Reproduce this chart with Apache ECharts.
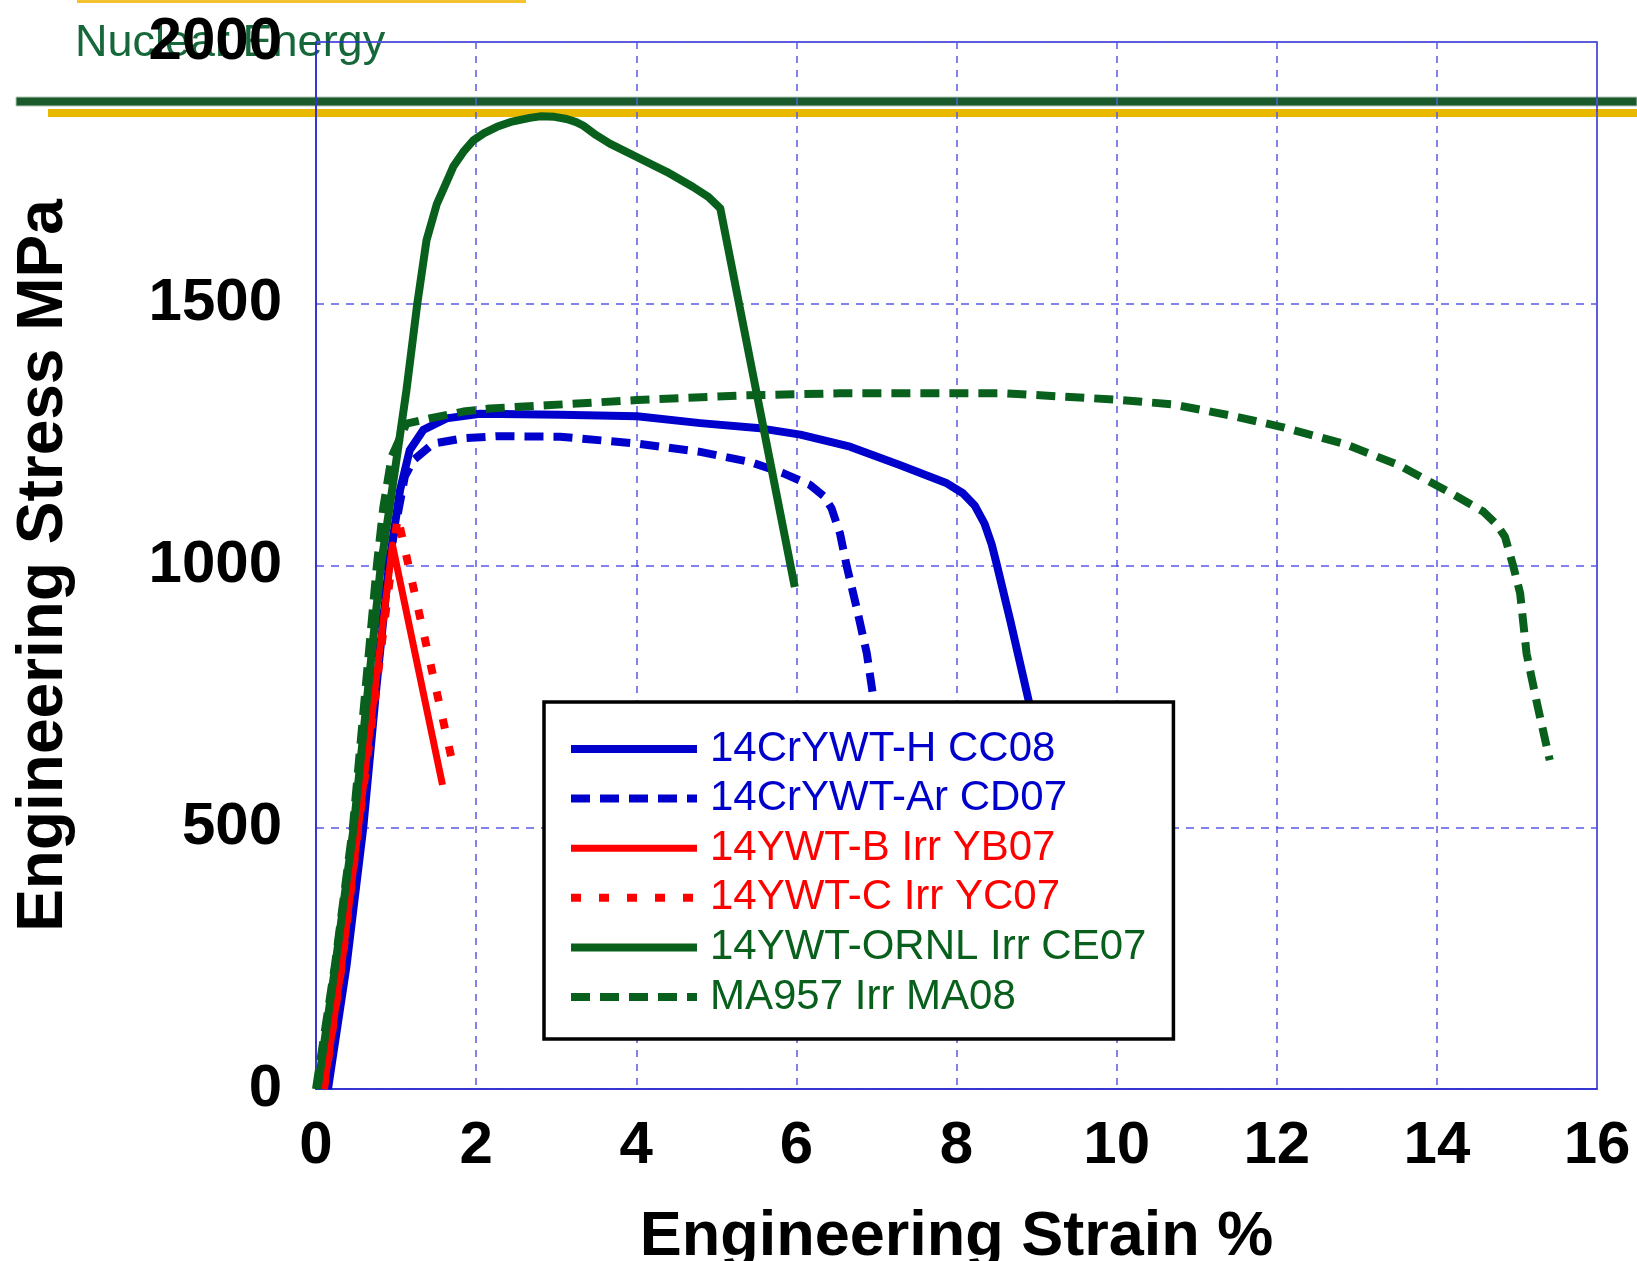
<!DOCTYPE html>
<html>
<head>
<meta charset="utf-8">
<script src="https://cdn.jsdelivr.net/npm/echarts@6/dist/echarts.min.js"></script>
<style>
  html, body { margin: 0; padding: 0; background: #ffffff; }
  #chart { width: 1637px; height: 1261px; }
</style>
</head>
<body>
<div id="chart"></div>
<script>
// Tensile curves: [engineering strain %, engineering stress MPa]
const cc08_14CrYWT_H = [
  [0.15, 0], [0.38, 234], [0.59, 499], [0.75, 760], [0.91, 1000], [1.05, 1144],
  [1.17, 1220], [1.34, 1259], [1.63, 1281], [2.05, 1290], [3.05, 1288], [4.01, 1285],
  [4.8, 1272], [5.55, 1262], [6.05, 1250], [6.67, 1227], [7.29, 1192], [7.88, 1157],
  [8.08, 1138], [8.23, 1114], [8.35, 1080], [8.44, 1040], [8.5, 1004], [8.67, 896],
  [8.9, 743], [9.05, 640]
];
const cd07_14CrYWT_Ar = [
  [0.12, 0], [0.36, 234], [0.57, 499], [0.74, 760], [0.9, 1000], [1.11, 1170],
  [1.215, 1201], [1.465, 1233], [1.84, 1243], [2.26, 1247], [3.05, 1246], [4.01, 1233],
  [4.8, 1217], [5.42, 1198], [5.84, 1176], [6.17, 1154], [6.34, 1133], [6.44, 1109],
  [6.545, 1061], [6.63, 998], [6.75, 921], [6.88, 832], [6.96, 749], [7.0, 700]
];
const yb07_14YWT_B = [
  [0.1, 0], [0.32, 234], [0.53, 499], [0.75, 780], [0.955, 1039], [1.58, 581]
];
const yc07_14YWT_C = [
  [0.1, 0], [0.32, 234], [0.53, 499], [0.78, 800], [1.02, 1093], [1.72, 613]
];
const ce07_14YWT_ORNL = [
  [0.02, 0], [0.24, 234], [0.47, 499], [0.81, 1000], [0.92, 1112], [1.13, 1335],
  [1.265, 1500], [1.38, 1621], [1.51, 1691], [1.6, 1722], [1.715, 1762], [1.84, 1790],
  [1.965, 1812], [2.1, 1826], [2.26, 1838], [2.45, 1848], [2.67, 1855], [2.8, 1858],
  [2.98, 1857], [3.13, 1853], [3.25, 1847], [3.34, 1840], [3.5, 1822], [3.67, 1806],
  [4.05, 1777], [4.38, 1752], [4.71, 1723], [4.9, 1704], [5.05, 1682], [5.98, 959]
];
const ma08_MA957 = [
  [0.0, 0], [0.24, 240], [0.46, 499], [0.76, 1000], [0.84, 1110], [0.945, 1208],
  [1.13, 1271], [1.42, 1281], [1.84, 1294], [2.17, 1300], [2.88, 1306], [4.01, 1316],
  [5.35, 1325], [6.545, 1329], [8.59, 1329], [9.98, 1317], [10.69, 1308], [11.41, 1287],
  [12.08, 1264], [12.85, 1232], [13.52, 1192], [14.18, 1138], [14.58, 1103], [14.75, 1078],
  [14.85, 1055], [14.95, 1001], [15.04, 947], [15.12, 832], [15.25, 737], [15.41, 628]
];

const seriesNames = [
  '14CrYWT-H CC08', '14CrYWT-Ar CD07', '14YWT-B Irr YB07',
  '14YWT-C Irr YC07', '14YWT-ORNL Irr CE07', 'MA957 Irr MA08'
];
const xTicks = { min: 0, max: 16, interval: 2 };
const yTicks = { min: 0, max: 2000, interval: 500 };

const BLUE = '#0000cc';
const RED = '#ff0000';
const GREEN = '#08601c';
const GRID_BLUE = '#5a5ae6';
const FONT = 'Liberation Sans, Arial, sans-serif';

const curves = [
  { name: seriesNames[0], data: cc08_14CrYWT_H, color: BLUE, type: 'solid', width: 8 },
  { name: seriesNames[1], data: cd07_14CrYWT_Ar, color: BLUE, type: [19, 10], width: 8 },
  { name: seriesNames[2], data: yb07_14YWT_B, color: RED, type: 'solid', width: 7 },
  { name: seriesNames[3], data: yc07_14YWT_C, color: RED, type: [10, 18], width: 8 },
  { name: seriesNames[4], data: ce07_14YWT_ORNL, color: GREEN, type: 'solid', width: 8 },
  { name: seriesNames[5], data: ma08_MA957, color: GREEN, type: [19, 10], width: 8 }
];

const chart = echarts.init(document.getElementById('chart'), null, { renderer: 'canvas' });

const option = {
  backgroundColor: '#ffffff',
  animation: false,
  textStyle: { fontFamily: FONT },
  graphic: {
    elements: [
      { type: 'rect', z: -10, shape: { x: 77, y: 0, width: 449, height: 3 }, style: { fill: '#f2c230' } },
      { type: 'text', z: -10, x: 75, y: 44,
        style: { text: 'Nuclear Energy', fill: '#16683a', font: '45px "Liberation Sans", Arial, sans-serif',
                 verticalAlign: 'middle' } },
      { type: 'rect', z: -10, shape: { x: 16, y: 97, width: 1621, height: 9 },
        style: { fill: '#1b5a2a', stroke: '#b8c8bc', lineWidth: 1 } },
      { type: 'rect', z: -10, shape: { x: 48, y: 109, width: 1589, height: 8 }, style: { fill: '#e8b900' } }
    ]
  },
  grid: {
    left: 316, right: 40, top: 42, bottom: 172,
    outerBoundsMode: 'none',
    containLabel: false,
    show: true, borderColor: '#2a2ad0', borderWidth: 1.5, backgroundColor: 'transparent'
  },
  legend: {
    orient: 'vertical',
    left: 544, top: 702,
    padding: [26, 27, 21, 23],
    itemWidth: 126, itemHeight: 14, itemGap: 7.6,
    backgroundColor: '#ffffff',
    borderColor: '#000000', borderWidth: 3.5,
    itemStyle: { opacity: 0 },
    lineStyle: { width: 'inherit', type: 'inherit', cap: 'butt' },
    textStyle: { fontSize: 42, fontFamily: FONT, padding: [0, 0, 0, 8] },
    data: curves.map(c => ({ name: c.name, textStyle: { color: c.color } }))
  },
  xAxis: {
    type: 'value',
    min: xTicks.min, max: xTicks.max, interval: xTicks.interval,
    name: 'Engineering Strain %',
    nameLocation: 'middle', nameGap: 117,
    nameTextStyle: { fontSize: 63, fontWeight: 'bold', color: '#000', fontFamily: FONT },
    axisLine: { show: true, lineStyle: { color: '#2a2ad0', width: 1.5 } },
    axisTick: { show: false },
    axisLabel: { fontSize: 60, fontWeight: 'bold', color: '#000', margin: 27, fontFamily: FONT,
                 formatter: v => String(v) },
    splitLine: { show: true, lineStyle: { color: GRID_BLUE, width: 1.5, type: [7, 7] } }
  },
  yAxis: {
    type: 'value',
    min: yTicks.min, max: yTicks.max, interval: yTicks.interval,
    name: 'Engineering Stress MPa',
    nameLocation: 'middle', nameGap: 240,
    nameTextStyle: { fontSize: 64, fontWeight: 'bold', color: '#000', fontFamily: FONT },
    axisLine: { show: true, lineStyle: { color: '#2a2ad0', width: 1.5 } },
    axisTick: { show: false },
    axisLabel: { fontSize: 60, fontWeight: 'bold', color: '#000', margin: 34, fontFamily: FONT,
                 formatter: v => String(v) },
    splitLine: { show: true, lineStyle: { color: GRID_BLUE, width: 1.5, type: [8, 7] } }
  },
  series: curves.map(c => ({
    name: c.name,
    type: 'line',
    data: c.data,
    showSymbol: false,
    symbol: 'none',
    smooth: false,
    clip: true,
    itemStyle: { color: c.color },
    lineStyle: { color: c.color, width: c.width, type: c.type, cap: 'butt', join: 'round' }
  }))
};

chart.setOption(option);
</script>
</body>
</html>
